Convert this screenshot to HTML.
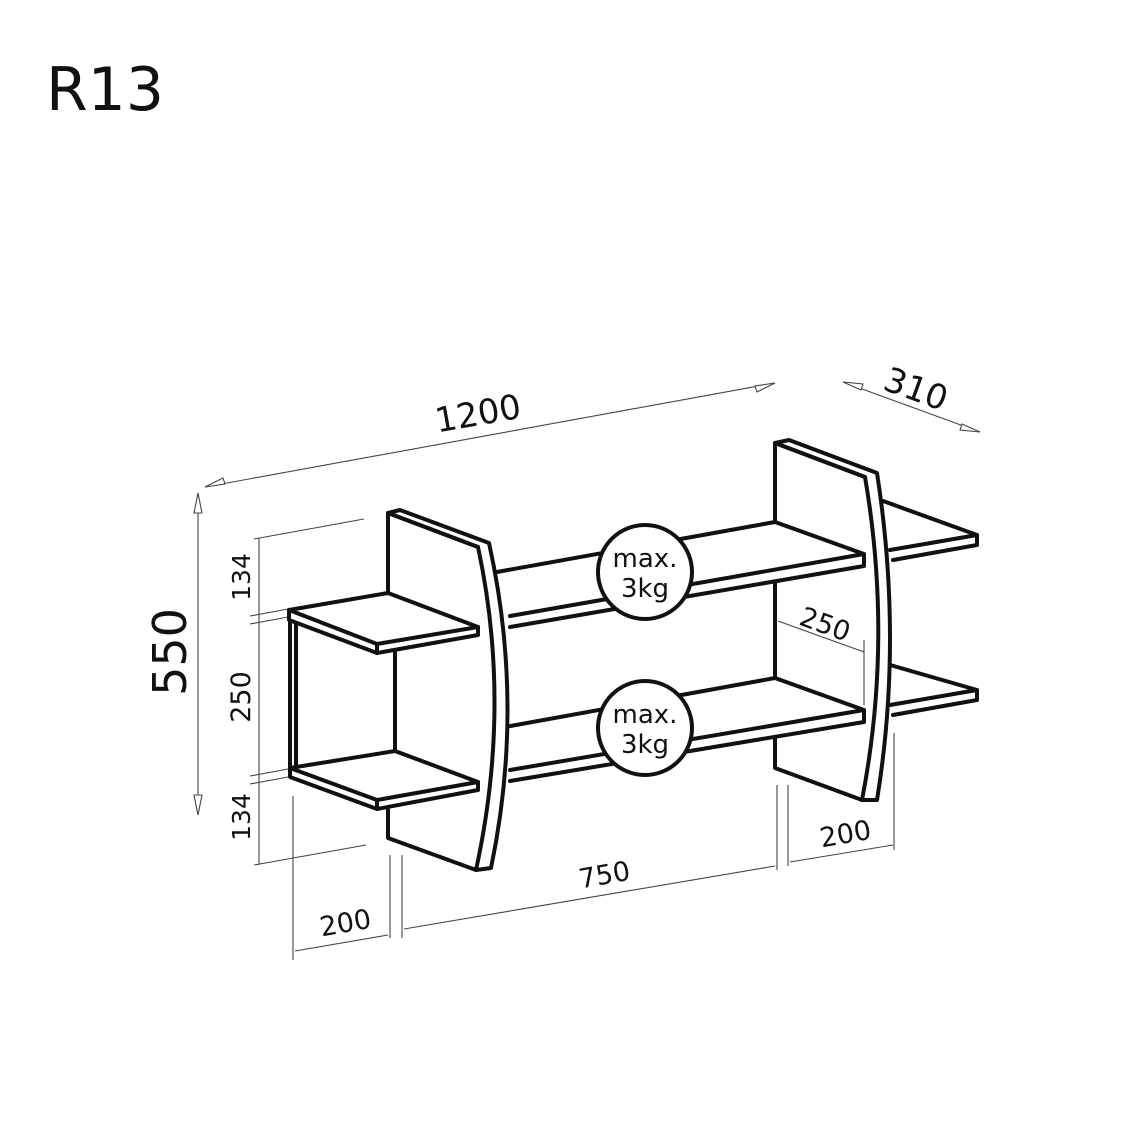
<!DOCTYPE html>
<html><head><style>
html,body{margin:0;padding:0;background:#fff;}
svg{display:block;}
text{font-family:"DejaVu Sans","Liberation Sans",sans-serif;fill:#111;}
</style></head><body>
<svg width="1134" height="1134" viewBox="0 0 1134 1134" xmlns="http://www.w3.org/2000/svg">
<rect width="1134" height="1134" fill="#fff"/>
<text x="46" y="110" font-size="60" font-family="Liberation Sans" font-weight="normal" textLength="118" lengthAdjust="spacingAndGlyphs">R13</text>

<!-- thin dimension lines -->
<g stroke="#444" stroke-width="1.1" fill="none">
  <line x1="205" y1="487" x2="775" y2="383"/>
  <path d="M205 487 l18 -9 l2 6 z M775 383 l-18 9 l-2 -6 z" fill="#fff"/>
  <line x1="843" y1="382" x2="980" y2="432"/>
  <path d="M843 382 l20 2 l-2 6 z M980 432 l-20 -2 l2 -6 z" fill="#fff"/>
  <line x1="198" y1="493" x2="198" y2="815"/>
  <path d="M198 493 l-4 20 h8 z M198 815 l-4 -20 h8 z" fill="#fff"/>
  <line x1="259" y1="538" x2="259" y2="865"/>
  <line x1="254" y1="539" x2="364" y2="519"/>
  <line x1="250" y1="616" x2="288" y2="609"/>
  <line x1="250" y1="624" x2="288" y2="617"/>
  <line x1="250" y1="776" x2="288" y2="769"/>
  <line x1="250" y1="784" x2="288" y2="777"/>
  <line x1="254" y1="865" x2="366" y2="845"/>
  <line x1="293" y1="796" x2="293" y2="960"/>
  <line x1="390" y1="855" x2="390" y2="938"/>
  <line x1="402" y1="855" x2="402" y2="938"/>
  <line x1="295" y1="951" x2="388" y2="935"/>
  <line x1="404" y1="929" x2="775" y2="866"/>
  <line x1="777" y1="785" x2="777" y2="870"/>
  <line x1="788" y1="785" x2="788" y2="866"/>
  <line x1="894" y1="733" x2="894" y2="850"/>
  <line x1="790" y1="862" x2="893" y2="845"/>
  <line x1="778" y1="621" x2="864" y2="652"/>
  <line x1="864" y1="640" x2="864" y2="705"/>
</g>
<g font-family="Liberation Sans" font-size="30">
<text x="480" y="425" text-anchor="middle" transform="rotate(-10 480 425)" font-size="34">1200</text>
<text x="912" y="400" text-anchor="middle" transform="rotate(20 912 400)" font-size="34">310</text>
<text x="186" y="652" text-anchor="middle" transform="rotate(-90 186 652)" font-size="46">550</text>
<text x="250" y="577" text-anchor="middle" transform="rotate(-90 250 577)" font-size="25">134</text>
<text x="250" y="697" text-anchor="middle" transform="rotate(-90 250 697)" font-size="27">250</text>
<text x="250" y="817" text-anchor="middle" transform="rotate(-90 250 817)" font-size="25">134</text>
<text x="347" y="932" text-anchor="middle" transform="rotate(-10 347 932)" font-size="27">200</text>
<text x="606" y="884" text-anchor="middle" transform="rotate(-10 606 884)" font-size="27">750</text>
<text x="847" y="843" text-anchor="middle" transform="rotate(-10 847 843)" font-size="27">200</text>
<text x="822" y="633" text-anchor="middle" transform="rotate(20 822 633)" font-size="27">250</text>
</g>

<!-- furniture -->
<g stroke="#111" stroke-width="4" fill="#fff" stroke-linejoin="round" stroke-linecap="round">
  <!-- right short shelves (behind right panel) -->
  <path d="M883 501 L977 535 L977 545 L893 560 M977 535 L890 550"/>
  <path d="M883 663 L977 690 L977 700 L893 715 M977 690 L890 705"/>
  <!-- middle long shelves -->
  <path d="M497 572 L775 522 L864 554 L864 566 L510 627 M864 554 L510 616" fill="none"/>
  <path d="M505 727 L775 678 L864 710 L864 722 L510 781 M864 710 L510 770" fill="none"/>
  <!-- right panel -->
  <path d="M775 443 L775 522 M775 583 L775 678 M775 738 L775 768 L862 800" fill="none"/>
  <path d="M775 443 L789 440 L877 473 Q903 640 877 800 L862 800 Q893 640 865 477 Z" fill="#fff"/>
  <path d="M775 443 L865 477" fill="none"/>
  <!-- left panel -->
  <path d="M388 513 L388 592 M388 810 L388 838 L476 870" fill="none"/>
  <path d="M388 513 L400 510 L489 543 Q525 705 491 868 L476 870 Q512 705 478 547 Z" fill="#fff"/>
  <path d="M388 513 L478 547" fill="none"/>
  <!-- left side board and inner back -->
  <path d="M290 620 L290 776 M296 622 L296 770 M395 653 L395 751" fill="none"/>
  <!-- left top shelf -->
  <path d="M289 610 L388 593 L478 627 L478 635 L377 653 L289 620 Z" fill="#fff"/>
  <path d="M289 610 L377 644 L478 627 M377 644 L377 653" fill="none"/>
  <!-- left bottom shelf -->
  <path d="M290 768 L395 751 L478 782 L478 790 L377 809 L290 777 Z" fill="#fff"/>
  <path d="M290 768 L377 800 L478 782 M377 800 L377 809" fill="none"/>
  <!-- circles -->
  <circle cx="645" cy="572" r="47"/>
  <circle cx="645" cy="728" r="47"/>
</g>
<g font-family="Liberation Sans" font-size="26" text-anchor="middle">
<text x="645" y="567">max.</text><text x="645" y="597">3kg</text>
<text x="645" y="723">max.</text><text x="645" y="753">3kg</text>
</g>
</svg>
</body></html>
